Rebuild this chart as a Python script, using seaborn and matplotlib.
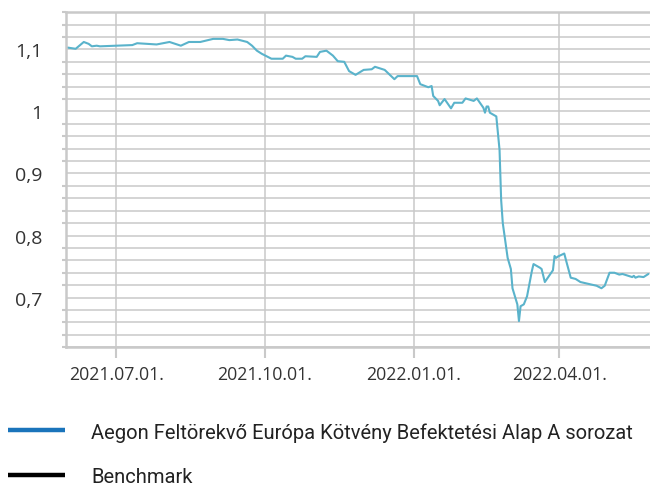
import matplotlib
matplotlib.use("Agg")
import matplotlib.pyplot as plt
import matplotlib.dates as mdates
from matplotlib.lines import Line2D
from matplotlib.ticker import MultipleLocator, FuncFormatter, FixedLocator
import pandas as pd
import seaborn as sns

# fund price series
dates = [
    "2021-06-01", "2021-06-06", "2021-06-11", "2021-06-14", "2021-06-16", "2021-06-19",
    "2021-06-21", "2021-07-01", "2021-07-11", "2021-07-14", "2021-07-26", "2021-08-03",
    "2021-08-10", "2021-08-15", "2021-08-22", "2021-08-30", "2021-09-05", "2021-09-09",
    "2021-09-14", "2021-09-20", "2021-09-23", "2021-09-26", "2021-09-29", "2021-10-05",
    "2021-10-08", "2021-10-12", "2021-10-14", "2021-10-18", "2021-10-20", "2021-10-24",
    "2021-10-26", "2021-11-02", "2021-11-04", "2021-11-08", "2021-11-12", "2021-11-15",
    "2021-11-19", "2021-11-22", "2021-11-26", "2021-12-01", "2021-12-06", "2021-12-08",
    "2021-12-14", "2021-12-20", "2021-12-22", "2022-01-03", "2022-01-05", "2022-01-10",
    "2022-01-12", "2022-01-13", "2022-01-16", "2022-01-17", "2022-01-20", "2022-01-24",
    "2022-01-26", "2022-01-31", "2022-02-02", "2022-02-07", "2022-02-09", "2022-02-13",
    "2022-02-14", "2022-02-15", "2022-02-16", "2022-02-17", "2022-02-21", "2022-02-23",
    "2022-02-24", "2022-02-25", "2022-02-28", "2022-03-02", "2022-03-03", "2022-03-06",
    "2022-03-07", "2022-03-08", "2022-03-10", "2022-03-12", "2022-03-15", "2022-03-16",
    "2022-03-20", "2022-03-21", "2022-03-23", "2022-03-28", "2022-03-29", "2022-03-30",
    "2022-03-31", "2022-04-04", "2022-04-05", "2022-04-08", "2022-04-11", "2022-04-14",
    "2022-04-19", "2022-04-24", "2022-04-27", "2022-04-29", "2022-05-02", "2022-05-05",
    "2022-05-08", "2022-05-10", "2022-05-16", "2022-05-17", "2022-05-18", "2022-05-20",
    "2022-05-23", "2022-05-26",
]
fund = [
    1.103, 1.101, 1.112, 1.109, 1.105, 1.106,
    1.105, 1.106, 1.107, 1.110, 1.108, 1.112,
    1.106, 1.112, 1.112, 1.117, 1.117, 1.115,
    1.116, 1.112, 1.106, 1.098, 1.093, 1.085,
    1.085, 1.085, 1.090, 1.088, 1.085, 1.085,
    1.089, 1.088, 1.096, 1.098, 1.090, 1.081,
    1.080, 1.065, 1.059, 1.067, 1.068, 1.072,
    1.067, 1.052, 1.057, 1.057, 1.044, 1.039,
    1.041, 1.025, 1.017, 1.010, 1.020, 1.005,
    1.014, 1.014, 1.021, 1.017, 1.021, 1.006,
    0.998, 1.008, 1.008, 0.998, 0.992, 0.938,
    0.857, 0.820, 0.764, 0.746, 0.715, 0.689,
    0.662, 0.686, 0.689, 0.702, 0.743, 0.754,
    0.748, 0.746, 0.725, 0.744, 0.767, 0.764,
    0.766, 0.771, 0.761, 0.732, 0.730, 0.725,
    0.722, 0.719, 0.715, 0.719, 0.740, 0.740,
    0.737, 0.738, 0.733, 0.735, 0.732, 0.734,
    0.733, 0.738,
]
benchmark = []  # no benchmark values are drawn in the reference

tick_dates = ["2021-07-01", "2021-10-01", "2022-01-01", "2022-04-01"]
series_labels = ["Aegon Feltörekvő Európa Kötvény Befektetési Alap A sorozat", "Benchmark"]

df = pd.DataFrame({"date": pd.to_datetime(dates), "value": fund})

sns.set_style("white")
plt.rcParams['font.family'] = ['Open Sans', 'DejaVu Sans']

grid_col = "#c9c9c9"
fig = plt.figure(figsize=(6.5, 4.89), dpi=100)
ax = fig.add_axes([0.1015, 0.288, 0.8985, 0.685])

sns.lineplot(data=df, x="date", y="value", color="#5ab3cb", linewidth=1.5, ax=ax)

ax.set_ylim(0.62, 1.16)
ax.set_xlim(pd.Timestamp("2021-05-31"), pd.Timestamp("2022-05-27"))
ax.yaxis.set_major_locator(MultipleLocator(0.1))
ax.yaxis.set_minor_locator(MultipleLocator(0.02))
ax.yaxis.set_major_formatter(FuncFormatter(lambda v, p: f"{v:.1f}".rstrip("0").rstrip(".").replace(".", ",")))
ax.xaxis.set_major_locator(FixedLocator(mdates.date2num(pd.to_datetime(tick_dates))))
ax.xaxis.set_major_formatter(mdates.DateFormatter("%Y.%m.%d."))

ax.grid(True, which="both", axis="y", color=grid_col, linewidth=1.1)
ax.grid(True, which="major", axis="x", color=grid_col, linewidth=1.1)
ax.set_axisbelow(True)
for side in ["left", "top", "bottom"]:
    ax.spines[side].set_color(grid_col)
    ax.spines[side].set_linewidth(1.8)
ax.spines["right"].set_visible(False)

ax.tick_params(axis="y", which="major", length=8, width=1.5, color=grid_col, pad=9,
               labelsize=14, labelcolor="#333333")
ax.tick_params(axis="y", which="minor", length=3, width=1.5, color=grid_col, left=True)
ax.tick_params(axis="x", which="major", length=8, width=1.5, color=grid_col, pad=5,
               labelsize=12.8, labelcolor="#333333", bottom=True)
ax.set_xlabel("")
ax.set_ylabel("")

handles = [Line2D([], [], color="#1a74bb", linewidth=3.2, solid_capstyle="butt"),
           Line2D(benchmark, benchmark, color="black", linewidth=3.2, solid_capstyle="butt")]
fig.legend(handles, series_labels, loc="upper left", bbox_to_anchor=(0.012, 0.135),
           frameon=False, borderpad=0, borderaxespad=0, handlelength=2.85,
           handletextpad=1.3, labelspacing=1.25,
           prop={"family": "Roboto", "size": 14.5}, labelcolor="#222222")

fig.savefig("out.png", dpi=100)
